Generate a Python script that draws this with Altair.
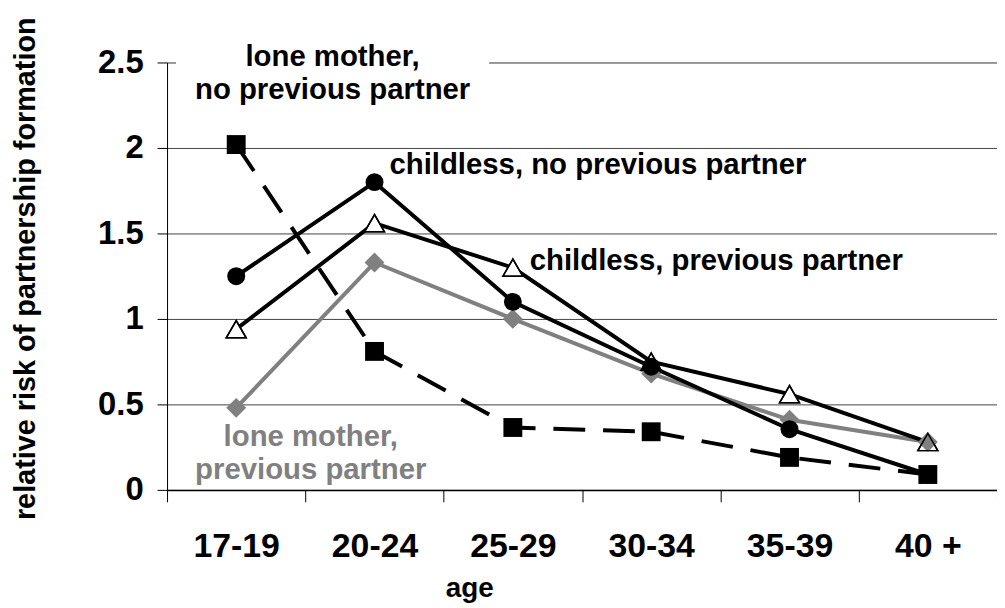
import altair as alt
import pandas as pd

FONT = "Liberation Sans"

ages = ["17-19", "20-24", "25-29", "30-34", "35-39", "40 +"]

series_names = [
    "lone mother, previous partner",
    "childless, previous partner",
    "childless, no previous partner",
    "lone mother, no previous partner",
]
lone_prev = [0.48, 1.33, 1.00, 0.68, 0.41, 0.28]
childless_prev = [0.94, 1.56, 1.30, 0.75, 0.56, 0.28]
childless_no_prev = [1.25, 1.80, 1.10, 0.72, 0.355, 0.09]
lone_no_prev = [2.02, 0.81, 0.365, 0.34, 0.19, 0.09]

y_ticks = [0, 0.5, 1, 1.5, 2, 2.5]

rows = []
for name, vals in zip(series_names, [lone_prev, childless_prev, childless_no_prev, lone_no_prev]):
    for a, v in zip(ages, vals):
        rows.append({"age": a, "series": name, "value": v})
df = pd.DataFrame(rows)

x_enc = alt.X(
    "age:N",
    sort=ages,
    bandPosition=0.5,
    scale=alt.Scale(type="band", domain=ages, paddingInner=0, paddingOuter=0),
    axis=alt.Axis(
        title="age",
        titleFont=FONT, titleFontSize=28, titleFontWeight="bold", titleColor="black",
        titleX=304, titleY=107, titleAlign="center", titleBaseline="alphabetic",
        labelFont=FONT, labelFontSize=34, labelFontWeight="bold", labelColor="black",
        labelAngle=0, labelPadding=55, labelBaseline="alphabetic",
        tickBand="extent", tickSize=12, tickColor="black", tickWidth=1,
        domainColor="black", domainWidth=1.5, grid=False,
    ),
)
y_enc = alt.Y(
    "value:Q",
    scale=alt.Scale(domain=[0, 2.5], nice=False, zero=True),
    axis=alt.Axis(
        values=y_ticks, format="~g",
        title="relative risk of partnership formation",
        titleFont=FONT, titleFontSize=29, titleFontWeight="bold", titleColor="black",
        titleAngle=270, titleX=-142, titleY=207, titleAlign="center", titleBaseline="middle",
        labelFont=FONT, labelFontSize=33, labelFontWeight="bold", labelColor="black",
        labelPadding=14, labelBaseline="middle",
        tickSize=10, tickColor="black", tickWidth=1,
        domainColor="black", domainWidth=1,
        grid=True, gridColor="#444444", gridWidth=1,
    ),
)


def sub(name):
    return df[df["series"] == name]


def line(name, color, dash=None):
    kw = dict(color=color, strokeWidth=4)
    if dash:
        kw["strokeDash"] = dash
    return alt.Chart(sub(name)).mark_line(**kw).encode(x=x_enc, y=y_enc)


def points(name, shape, size, fill, stroke, sw, fill_opacity=1):
    return alt.Chart(sub(name)).mark_point(
        shape=shape, size=size, filled=False, fill=fill, fillOpacity=fill_opacity,
        stroke=stroke, strokeWidth=sw, opacity=1,
    ).encode(x=x_enc, y=y_enc)


def label(lines, age, val, dx, align, color):
    d = pd.DataFrame({"age": [age], "value": [val]})
    return alt.Chart(d).mark_text(
        text=lines, align=align, baseline="alphabetic", dx=dx,
        font=FONT, fontSize=29.5, fontWeight="bold", color=color, lineHeight=33,
    ).encode(x=x_enc, y=y_enc)


bg = alt.Chart(pd.DataFrame({"age": [ages[0]], "value": [2.5]})).mark_rect(color="white").encode(
    x=alt.value(9), x2=alt.value(324), y=alt.value(-22), y2=alt.value(46)
)

layers = [
    bg,
    line(series_names[0], "#808080"),
    line(series_names[1], "black"),
    line(series_names[2], "black"),
    line(series_names[3], "black", [32, 18]),
    points(series_names[1], "triangle-up", 400, "white", "black", 1.5),
    points(series_names[0], "diamond", 400, "#808080", "#808080", 0),
    points(series_names[1], "triangle-up", 400, "white", "black", 1.5, 0),
    points(series_names[2], "circle", 324, "black", "black", 0),
    points(series_names[3], "square", 361, "black", "black", 0),
    label(["lone mother,", "no previous partner"], ages[0], 2.477, 97, "center", "black"),
    label(["childless, no previous partner"], ages[1], 1.85, 15, "left", "black"),
    label(["childless, previous partner"], ages[2], 1.285, 17, "left", "black"),
    label(["lone mother,", "previous partner"], ages[0], 0.256, 75, "center", "#808080"),
]

chart = alt.layer(*layers).properties(
    width=835, height=430,
    padding={"left": 160, "top": 53, "right": 0, "bottom": 115},
    autosize=alt.AutoSizeParams(type="none"),
).configure_view(stroke="#444444", strokeWidth=1).configure(background="white")

chart.save("out.html", embed_options={"renderer": "svg", "actions": False})
